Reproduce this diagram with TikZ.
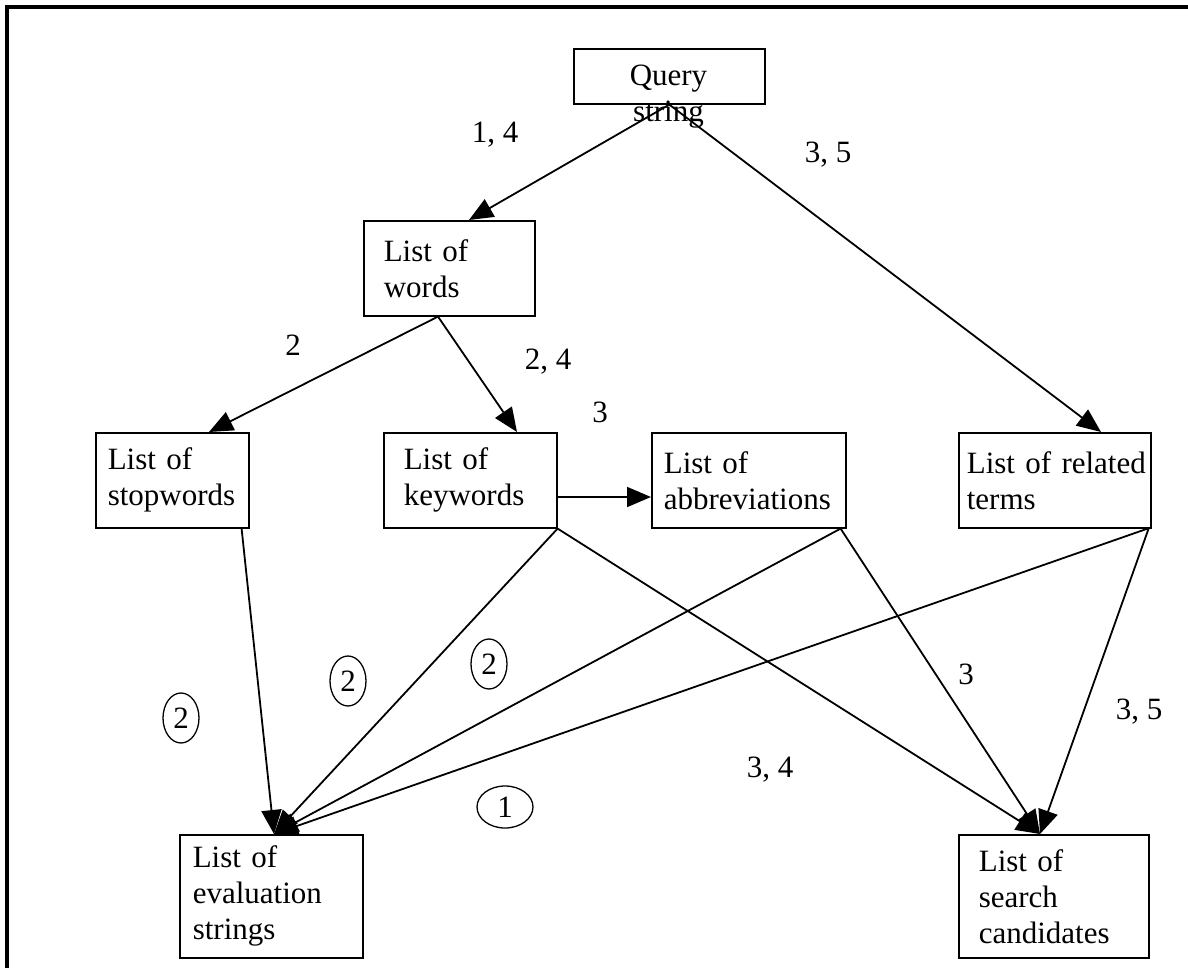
\documentclass[tikz,border=0pt]{standalone}
\usepackage{fontspec}
\setmainfont{Liberation Serif}
\usetikzlibrary{arrows.meta,shapes.geometric,calc}
\begin{document}
\begin{tikzpicture}[x=1pt,y=-1pt,
  every node/.style={font=\fontsize{31}{36}\selectfont},
  box/.style={draw, line width=1.6pt, rectangle, inner xsep=20pt, inner ysep=0pt,
              anchor=north west, align=left},
  lbl/.style={inner sep=0pt},
  ring/.style={draw, ellipse, line width=1.3pt, inner sep=0pt},
  conn/.style={line width=1.8pt, -{Triangle[length=24pt,width=20pt]}},
  frame/.style={line width=3.5pt}
]
\useasboundingbox (0,0) rectangle (1188,968);

% page frame (open at the right and bottom edges)
\coordinate (ftl) at (7,7);
\coordinate (ftr) at (1190,7);
\coordinate (fbl) at (7,970);
\draw[frame] (ftr) -- (ftl) -- (fbl);

% boxes
\node[draw, line width=1.6pt, minimum width=191pt, minimum height=55pt, inner sep=0pt,
      anchor=north west] (query) at (573,48) {};
\node[lbl, anchor=north, align=center] (querytext) at (668.5,65) {Query\\string};

\node[box, text width=131pt, minimum height=95pt] (words) at (363,220) {List of\\words};

\node[box, text width=129pt, inner xsep=12pt, minimum height=95pt] (stop) at (95,432) {List of\\stopwords};
\node[box, text width=133pt, minimum height=95pt] (keys) at (383,432) {List of\\keywords};
\node[box, text width=170pt, inner xsep=12pt, minimum height=95pt] (abbr) at (651,432) {List of\\abbreviations};
\node[box, text width=176pt, inner xsep=8pt, minimum height=95pt] (rel) at (958,432) {\mbox{List of related}\\terms};

\node[box, text width=157pt, inner xsep=13pt, minimum height=123pt] (eval) at (179,834) {List of\\evaluation\\strings};
\node[box, text width=150pt, minimum height=123pt] (search) at (958,834) {List of\\search\\candidates};

% connectors
\draw[conn] (query.south) -- ([xshift=106pt]words.north west);
\draw[conn] (query.south) -- ([xshift=143pt]rel.north west);
\draw[conn] ([xshift=75pt]words.south west) -- ([xshift=114pt]stop.north west);
\draw[conn] ([xshift=75pt]words.south west) -- ([xshift=134pt]keys.north west);
\draw[conn] ([yshift=-65pt]keys.north east) -- ([yshift=-65pt]abbr.north west);

\coordinate (evaltip) at ([xshift=95pt]eval.north west);
\coordinate (searchtip) at ([xshift=82pt]search.north west);
\draw[conn] ([xshift=-8pt]stop.south east) -- (evaltip);
\draw[conn] (keys.south east) -- (evaltip);
\draw[conn] (keys.south east) -- (searchtip);
\draw[conn] ([xshift=-6pt]abbr.south east) -- (evaltip);
\draw[conn] ([xshift=-6pt]abbr.south east) -- (searchtip);
\draw[conn] ([xshift=-4pt]rel.south east) -- (evaltip);
\draw[conn] ([xshift=-3pt]rel.south east) -- (searchtip);

% edge labels
\node[lbl] (l14) at (495,135) {1, 4};
\node[lbl] (l35a) at (828,155) {3, 5};
\node[lbl] (l2a) at (293,345) {2};
\node[lbl] (l24) at (548,362) {2, 4};
\node[lbl] (l3a) at (600,412) {3};
\node[lbl] (l3b) at (966,674) {3};
\node[lbl] (l35b) at (1139,712) {3, 5};
\node[lbl] (l34) at (770,770) {3, 4};

% circled labels
\node[ring, minimum width=36pt, minimum height=50pt] (c2a) at (181,718) {2};
\node[ring, minimum width=36pt, minimum height=50pt] (c2b) at (348,681) {2};
\node[ring, minimum width=36pt, minimum height=50pt] (c2c) at (489,664) {2};
\node[ring, minimum width=56pt, minimum height=42pt] (c1) at (505,807) {1};
\end{tikzpicture}
\end{document}
